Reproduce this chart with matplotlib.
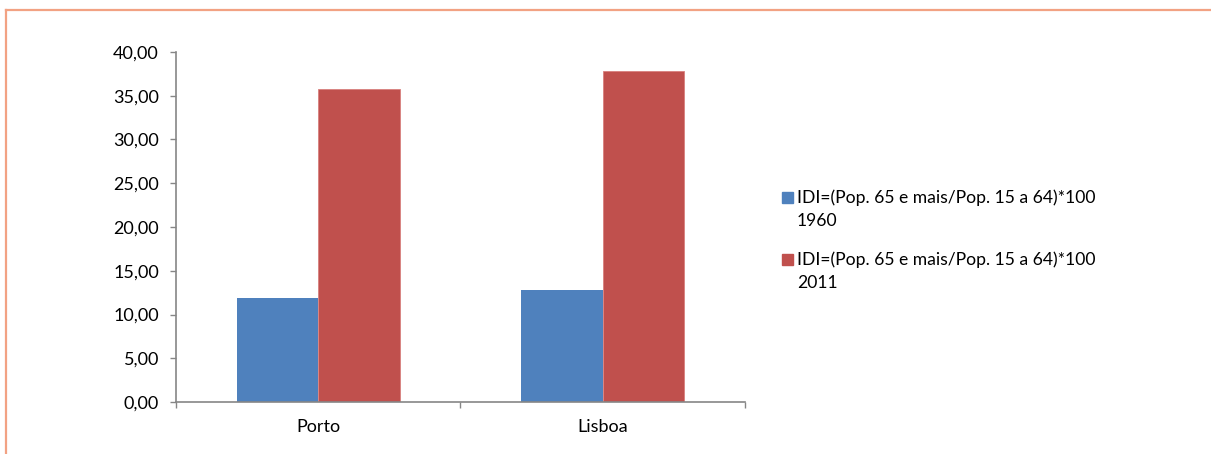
import matplotlib
matplotlib.use('Agg')
import matplotlib.pyplot as plt
from matplotlib.patches import Rectangle
from matplotlib.lines import Line2D
from matplotlib.ticker import FuncFormatter

categories = ['Porto', 'Lisboa']
series_names = ['IDI=(Pop. 65 e mais/Pop. 15 a 64)*100\n1960',
                'IDI=(Pop. 65 e mais/Pop. 15 a 64)*100\n2011']
idi_1960 = [11.89, 12.82]
idi_2011 = [35.77, 37.83]

colors = ['#4F81BD', '#C0504D']
axis_grey = '#868686'

plt.rcParams['font.family'] = ['Lato', 'DejaVu Sans']
plt.rcParams['font.size'] = 13

fig = plt.figure(figsize=(12.11, 4.54), dpi=100)
ax = fig.add_axes([0.1453, 0.1145, 0.4699, 0.771])

w = 0.287
xs = range(len(categories))
b1 = ax.bar([x - w / 2 for x in xs], idi_1960, width=w, color=colors[0])
b2 = ax.bar([x + w / 2 for x in xs], idi_2011, width=w, color=colors[1],
            edgecolor='#D9807E', linewidth=0.6)

ax.set_xlim(-0.5, 1.5)
ax.set_ylim(0, 40)
ax.set_yticks(range(0, 41, 5))
ax.yaxis.set_major_formatter(FuncFormatter(lambda v, p: f'{v:.2f}'.replace('.', ',')))

# category boundaries as tick marks, names as minor labels
ax.set_xticks([-0.5, 0.5, 1.5])
ax.set_xticklabels(['', '', ''])
ax.set_xticks(list(xs), minor=True)
ax.set_xticklabels(categories, minor=True)
ax.tick_params(axis='x', which='minor', length=0, pad=12)
ax.tick_params(axis='both', which='major', length=4.3, width=1, color=axis_grey)
ax.tick_params(axis='y', pad=8)

for s in ['top', 'right']:
    ax.spines[s].set_visible(False)
for s in ['left', 'bottom']:
    ax.spines[s].set_color(axis_grey)
    ax.spines[s].set_linewidth(1.2)

# legend drawn by hand so the swatch sits on the first line
W, H = 1211, 454
for i, (name, c) in enumerate(zip(series_names, colors)):
    top = 192 + i * 62
    fig.add_artist(Rectangle((782 / W, 1 - (top + 11) / H), 11 / W, 11 / H,
                             transform=fig.transFigure, color=c))
    for j, line in enumerate(name.split('\n')):
        fig.text(797 / W, 1 - (top + 11 + j * 23) / H, line,
                 va='baseline', ha='left', fontsize=12.6)

# orange frame (only top and left edges visible)
frame = '#F2A283'
fig.add_artist(Line2D([6 / W, 1], [1 - 10 / H, 1 - 10 / H], color=frame,
                      lw=1.6, transform=fig.transFigure))
fig.add_artist(Line2D([6 / W, 6 / W], [0, 1 - 10 / H], color=frame,
                      lw=1.6, transform=fig.transFigure))

fig.savefig('out.png', dpi=100)
